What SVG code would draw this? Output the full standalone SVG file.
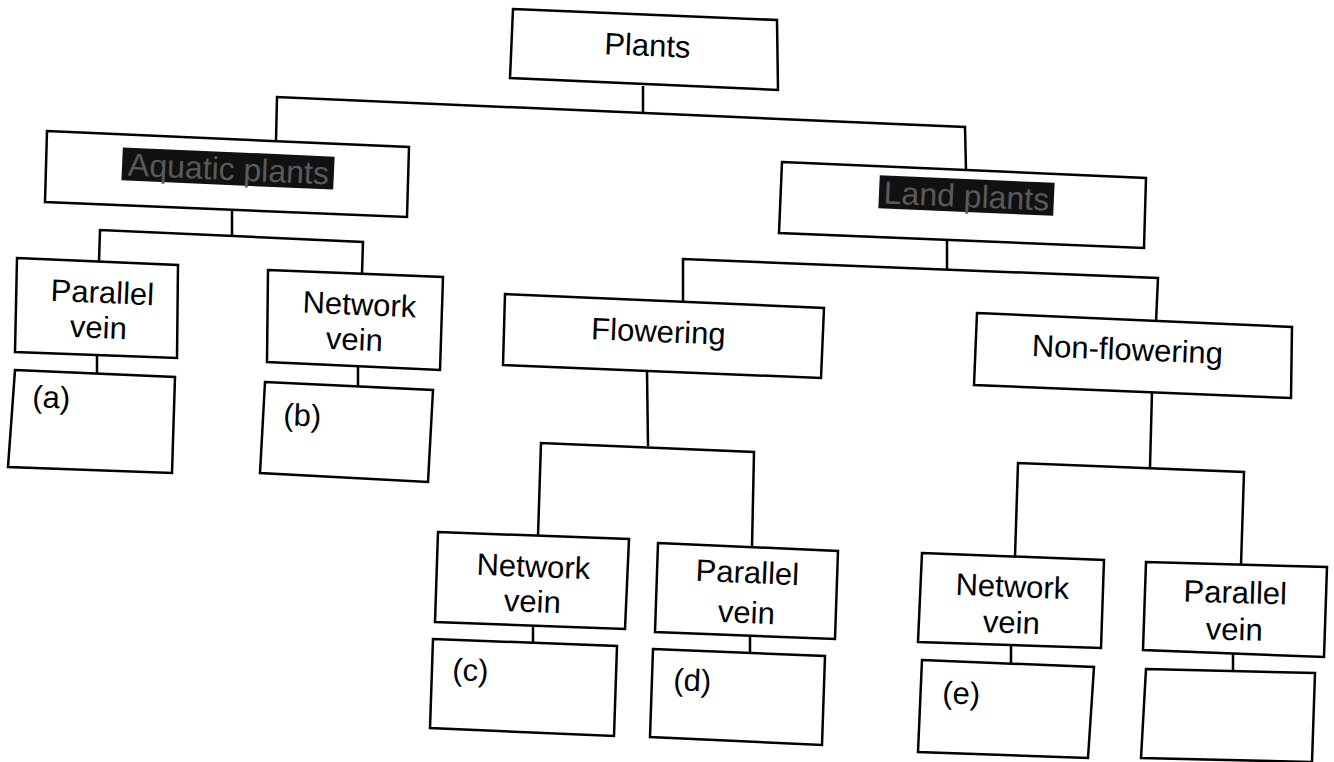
<svg xmlns="http://www.w3.org/2000/svg" width="1334" height="762" viewBox="0 0 1334 762">
<style>
.box{fill:#fff;stroke:#000;stroke-width:2.5;stroke-linejoin:miter}
.con{fill:none;stroke:#000;stroke-width:2.5}
.t{font-family:"Liberation Sans",Arial,sans-serif;font-size:31px;fill:#000}
.c{text-anchor:middle}
.blot{fill:#111}
.bt{font-family:"Liberation Sans",Arial,sans-serif;font-size:32px;fill:#5a5a5a;text-anchor:middle}
</style>
<rect width="1334" height="762" fill="#fff"/>
<g id="connectors">
<polyline class="con" points="643,86 643,113"/>
<polyline class="con" points="276,141 277,97 965,127 966,170"/>
<polyline class="con" points="232,210 232,236"/>
<polyline class="con" points="99,262 100,230 363,242 362,274"/>
<polyline class="con" points="97,355 97,374"/>
<polyline class="con" points="358,366 358,387"/>
<polyline class="con" points="947,240 947,270"/>
<polyline class="con" points="683,302 683,259 1158,278 1156,322"/>
<polyline class="con" points="647,371 648,446"/>
<polyline class="con" points="538,536 541,443 754,452 752,547"/>
<polyline class="con" points="533,626 533,643"/>
<polyline class="con" points="750,636 750,653"/>
<polyline class="con" points="1152,392 1150,467"/>
<polyline class="con" points="1015,557 1018,463 1244,472 1241,565"/>
<polyline class="con" points="1011,645 1011,664"/>
<polyline class="con" points="1233,654 1233,671"/>
</g>
<g id="plants">
<polygon class="box" points="513,9 777,20 778,90 510,78"/>
<text class="t c" x="647" y="56" font-size="33" transform="rotate(2.4 647 56)">Plants</text>
</g>
<g id="aquatic">
<polygon class="box" points="47,131 409,147 407,217 45,202"/>
<rect class="blot" x="122" y="152" width="212" height="33" transform="rotate(2.5 228 169)"/>
<text class="bt" x="228" y="180" transform="rotate(2.5 228 180)">Aquatic plants</text>
</g>
<g id="land">
<polygon class="box" points="782,162 1146,178 1144,248 779,233"/>
<rect class="blot" x="879" y="179" width="175" height="33" transform="rotate(2.5 966 195)"/>
<text class="bt" x="966" y="207" transform="rotate(2.5 966 207)">Land plants</text>
</g>
<g id="aq-parallel">
<polygon class="box" points="17,258 178,265 177,358 15,352"/>
<text class="t c" x="102" y="303" transform="rotate(2.4 102 303)">Parallel</text>
<text class="t c" x="98" y="338" transform="rotate(2.4 98 338)">vein</text>
</g>
<g id="box-a">
<polygon class="box" points="15,370 175,377 172,473 8,467"/>
<text class="t" x="32" y="407" transform="rotate(2.4 32 407)">(a)</text>
</g>
<g id="aq-network">
<polygon class="box" points="268,270 443,277 440,370 267,362"/>
<text class="t c" x="359" y="315" transform="rotate(2.4 359 315)">Network</text>
<text class="t c" x="354" y="350" transform="rotate(2.4 354 350)">vein</text>
</g>
<g id="box-b">
<polygon class="box" points="265,382 433,390 428,482 260,473"/>
<text class="t" x="283" y="425" transform="rotate(2.4 283 425)">(b)</text>
</g>
<g id="flowering">
<polygon class="box" points="505,294 824,308 821,378 503,365"/>
<text class="t c" x="658" y="342" transform="rotate(2.4 658 342)">Flowering</text>
</g>
<g id="non-flowering">
<polygon class="box" points="977,313 1292,327 1291,398 974,385"/>
<text class="t c" x="1127" y="360" transform="rotate(2.4 1127 360)">Non-flowering</text>
</g>
<g id="fl-network">
<polygon class="box" points="438,532 629,539 625,629 435,622"/>
<text class="t c" x="533" y="577" transform="rotate(2.2 533 577)">Network</text>
<text class="t c" x="532" y="612" transform="rotate(2.2 532 612)">vein</text>
</g>
<g id="box-c">
<polygon class="box" points="433,639 617,646 614,736 430,728"/>
<text class="t" x="452" y="680" transform="rotate(2.2 452 680)">(c)</text>
</g>
<g id="fl-parallel">
<polygon class="box" points="658,543 838,551 835,639 655,632"/>
<text class="t c" x="747" y="583" transform="rotate(2.4 747 583)">Parallel</text>
<text class="t c" x="746" y="623" transform="rotate(2.4 746 623)">vein</text>
</g>
<g id="box-d">
<polygon class="box" points="653,649 825,656 822,745 650,737"/>
<text class="t" x="673" y="690" transform="rotate(2.4 673 690)">(d)</text>
</g>
<g id="nf-network">
<polygon class="box" points="922,553 1104,560 1101,648 918,642"/>
<text class="t c" x="1012" y="597" transform="rotate(2.2 1012 597)">Network</text>
<text class="t c" x="1011" y="633" transform="rotate(2.2 1011 633)">vein</text>
</g>
<g id="box-e">
<polygon class="box" points="922,660 1094,667 1088,758 918,752"/>
<text class="t" x="942" y="703" transform="rotate(2.2 942 703)">(e)</text>
</g>
<g id="nf-parallel">
<polygon class="box" points="1146,562 1327,567 1324,657 1143,650"/>
<text class="t c" x="1235" y="603" transform="rotate(1.6 1235 603)">Parallel</text>
<text class="t c" x="1234" y="640" transform="rotate(1.6 1234 640)">vein</text>
</g>
<g id="box-empty">
<polygon class="box" points="1146,669 1315,673 1312,762 1141,758"/>
</g>
</svg>
